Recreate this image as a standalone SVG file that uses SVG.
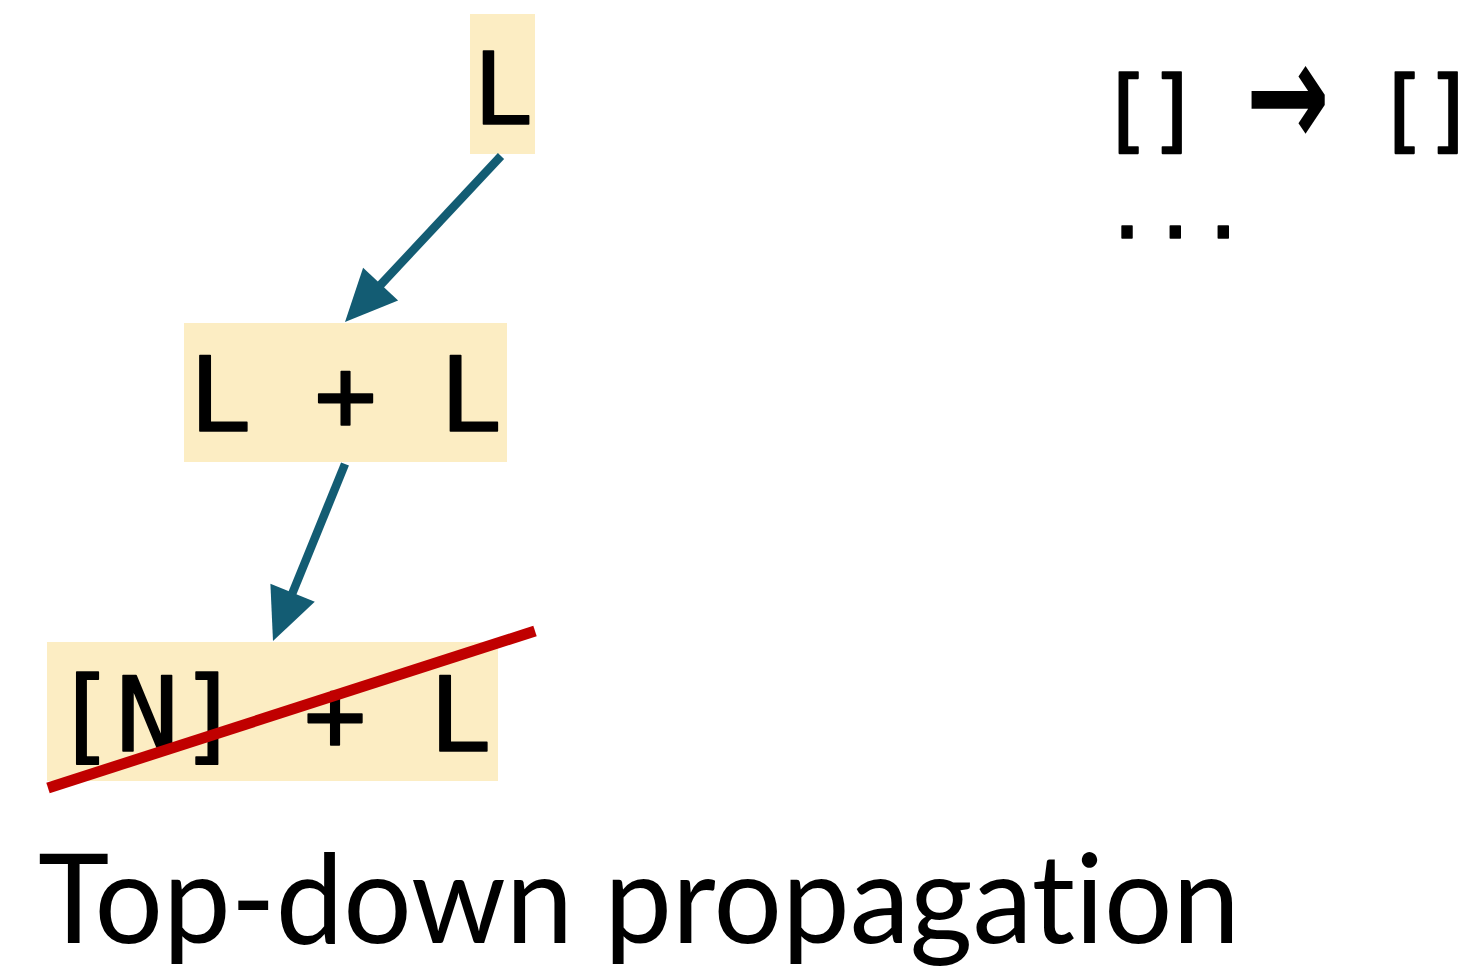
<svg xmlns="http://www.w3.org/2000/svg" width="1481" height="968" viewBox="0 0 1481 968">
  <defs>
    <style>
      .box { fill: #fcedc3; }
      .mono { font-family: "DejaVu Sans Mono", "Liberation Mono", monospace; fill: #000; stroke: #000; stroke-width: 1.6; stroke-linejoin: round; }
      .edge { stroke: #135c73; stroke-width: 8.5; fill: none; }
      .head { fill: #135c73; }
      .strike { stroke: #c00000; stroke-width: 11; stroke-linecap: butt; }
      .title { font-family: Lato, "Open Sans", sans-serif; fill: #000; font-variant-ligatures: none; }
    </style>
  </defs>
  <rect width="1481" height="968" fill="#fff"/>

  <g id="node-top">
    <rect class="box" x="470" y="14" width="65" height="140"/>
    <text class="mono" x="503" y="124" font-size="100" text-anchor="middle">L</text>
  </g>

  <g id="node-mid">
    <rect class="box" x="184" y="323" width="323" height="139"/>
    <text class="mono" x="345.5" y="431" font-size="104" text-anchor="middle" xml:space="preserve">L + L</text>
  </g>

  <g id="node-bottom">
    <rect class="box" x="47" y="642" width="451" height="139"/>
    <text class="mono" x="272.5" y="751" font-size="104" text-anchor="middle" xml:space="preserve">[N] + L</text>
  </g>

  <g id="connectors">
    <line class="edge" x1="501" y1="156" x2="372" y2="294"/>
    <polygon class="head" points="345,322 398.1,300.5 363.1,267.7"/>
    <line class="edge" x1="345" y1="464" x2="288" y2="604"/>
    <polygon class="head" points="273,641 314.8,601.8 270.4,583.8"/>
  </g>

  <line id="strike" class="strike" x1="48" y1="788" x2="535" y2="631"/>

  <g id="rule">
    <text class="mono" font-size="90" y="141" letter-spacing="-6"><tspan x="1099">[]</tspan><tspan x="1375">[]</tspan></text>
    <text font-family="'DejaVu Sans', sans-serif" font-weight="bold" font-size="100" fill="#000" transform="translate(1246,147) scale(1.0,1.5)">→</text>
    <text class="mono" font-size="80" x="1103" y="238" stroke-width="6">...</text>
  </g>

  <text class="title" x="38" y="943" font-size="124" textLength="1202" lengthAdjust="spacingAndGlyphs">Top-down propagation</text>
</svg>
